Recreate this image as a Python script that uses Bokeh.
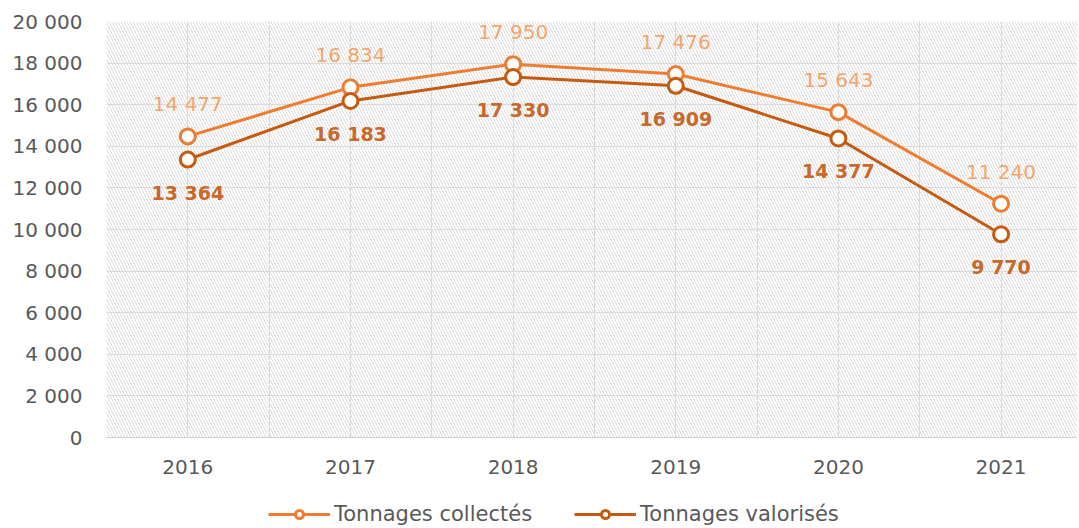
from bokeh.plotting import figure
from bokeh.layouts import column
from bokeh.models import (FixedTicker, BoxAnnotation, Legend, LegendItem, ColumnDataSource, Range1d)
from bokeh.core.properties import value
from bokeh.embed import file_html
from bokeh.resources import INLINE

years = ["2016", "2017", "2018", "2019", "2020", "2021"]
collectes = [14477, 16834, 17950, 17476, 15643, 11240]
valorises = [13364, 16183, 17330, 16909, 14377, 9770]
y_ticks = [0, 2000, 4000, 6000, 8000, 10000, 12000, 14000, 16000, 18000, 20000]
series_names = ["Tonnages collectés", "Tonnages valorisés"]

def fmt(v):
    return f"{v:,}".replace(",", " ")

xs = list(range(len(years)))
src = ColumnDataSource(dict(
    x=xs, c=collectes, v=valorises,
    c_lbl=[fmt(v) for v in collectes],
    v_lbl=[fmt(v) for v in valorises],
))

FONT = "DejaVu Sans"
C1 = "#ED7D31"
C2 = "#C55A11"
L1 = "#F2A66E"
L2 = "#C8682A"
GRAY = "#595959"

p = figure(width=1077, height=480, output_backend="svg", toolbar_location=None,
           x_range=Range1d(-0.5, 5.47), y_range=Range1d(0, 20000),
           min_border_left=106, min_border_top=21, min_border_bottom=43, min_border_right=0)
p.outline_line_color = None
p.background_fill_color = "white"

hatch = BoxAnnotation(fill_alpha=0, line_color=None, hatch_pattern="\\",
                      hatch_color="#dcdcdc", hatch_alpha=1.0, hatch_scale=6,
                      hatch_weight=1, level="underlay")
p.add_layout(hatch)

p.xaxis.ticker = FixedTicker(ticks=xs)
p.xaxis.major_label_overrides = {i: y for i, y in enumerate(years)}
p.yaxis.ticker = FixedTicker(ticks=y_ticks)
p.yaxis.major_label_overrides = {t: fmt(t) for t in y_ticks}
for ax in (p.xaxis, p.yaxis):
    ax.major_tick_line_color = None
    ax.minor_tick_line_color = None
    ax.major_label_text_font = FONT
    ax.major_label_text_font_size = "20px"
    ax.major_label_text_color = GRAY
p.yaxis.axis_line_color = None
p.xaxis.axis_line_color = "#d0d0d0"
p.yaxis.major_label_standoff = 18
p.xaxis.major_label_standoff = 16

p.xgrid.ticker = FixedTicker(ticks=[i * 0.5 - 0.5 for i in range(13)])
p.xgrid.grid_line_color = "#dadada"
p.ygrid.grid_line_color = "#dadada"

p.line("x", "c", source=src, line_color=C1, line_width=3)
p.scatter("x", "c", source=src, size=15, fill_color="white", line_color=C1, line_width=3)
p.line("x", "v", source=src, line_color=C2, line_width=3)
p.scatter("x", "v", source=src, size=15, fill_color="white", line_color=C2, line_width=3)

p.text("x", "c", text="c_lbl", source=src, y_offset=-32, text_align="center",
       text_baseline="middle", text_font=value(FONT), text_font_size="20px", text_color=L1)
p.text("x", "v", text="v_lbl", source=src, y_offset=33, text_align="center",
       text_baseline="middle", text_font=value(FONT), text_font_size="19px",
       text_color=L2, text_font_style="bold")

# legend row below the chart (series re-drawn off-range so only their legend glyphs show)
q = figure(width=1077, height=46, output_backend="svg", toolbar_location=None,
           x_range=Range1d(0, 1), y_range=Range1d(0, 1),
           min_border_left=0, min_border_right=0, min_border_top=0, min_border_bottom=0)
q.axis.visible = False
q.grid.visible = False
q.outline_line_color = None
k1 = q.line("x", "c", source=src, line_color=C1, line_width=3)
m1 = q.scatter("x", "c", source=src, size=15, fill_color="white", line_color=C1, line_width=3)
k2 = q.line("x", "v", source=src, line_color=C2, line_width=3)
m2 = q.scatter("x", "v", source=src, size=15, fill_color="white", line_color=C2, line_width=3)

legend = Legend(items=[LegendItem(label=series_names[0], renderers=[k1, m1]),
                       LegendItem(label=series_names[1], renderers=[k2, m2])],
                location=(162, 0), orientation="horizontal",
                glyph_width=62, glyph_height=20, label_standoff=4, spacing=42,
                padding=0, margin=0, border_line_color=None, background_fill_alpha=0,
                label_text_font=FONT, label_text_font_size="21px", label_text_color=GRAY)
q.add_layout(legend)

open("out.html", "w").write(file_html(column(p, q, spacing=0), INLINE))
